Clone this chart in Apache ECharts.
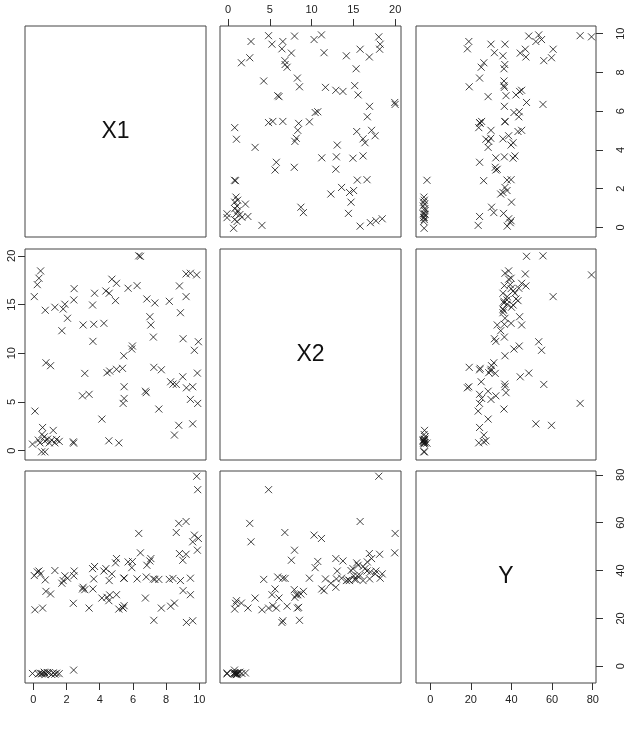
<!DOCTYPE html>
<html>
<head>
<meta charset="utf-8">
<script src="https://cdn.jsdelivr.net/npm/echarts@6/dist/echarts.min.js"></script>
<style>
  html, body { margin: 0; padding: 0; background: #fff; }
  #chart { width: 629px; height: 732px; }
</style>
</head>
<body>
<div id="chart"></div>
<script>
// variables (one entry per observation)
const x1 = [1.20, 0.52, 0.66, 0.30, 0.86, 1.10, 1.40, 1.56, 0.96, 1.30, 0.40, 0.70, -0.05, 2.43, 0.50, 0.70,
  0.44, 0.34, 0.24, 0.06, 0.72, 1.30, 1.80, 1.90, 2.46, 2.44, 2.06, 1.72, 3.69, 3.57, 4.73, 5.01, 4.37, 4.57, 4.95,
  3.00, 3.64, 4.25, 3.59, 0.76, 1.04, 3.10, 4.44, 4.60, 5.01, 2.96, 3.36, 0.10, 4.13, 0.56, 2.41, 4.55, 5.15,
  6.35, 6.45, 5.71, 6.25, 6.84, 7.32, 8.19, 8.80, 9.20, 9.46, 9.84, 9.20, 8.86, 7.02, 7.08, 7.23, 9.02, 9.94, 9.70,
  5.97, 5.93, 5.45, 5.37, 7.26, 7.71, 8.27, 8.41, 8.61, 9.00, 9.88, 9.22, 9.60, 5.47, 6.75, 6.80, 5.47, 5.41,
  9.46, 9.90, 7.56, 8.76, 9.60, 8.50]
const x2 = [2.08, 1.66, 1.42, 1.08, 1.18, 1.08, 1.15, 0.95, 0.80, 0.80, 0.80, 0.98, 0.67, 0.77, -0.12, -0.12,
  18.45, 17.70, 17.04, 15.81, 14.41, 14.72, 14.54, 15.03, 16.63, 15.47, 13.59, 12.31, 16.16, 14.95, 17.60, 17.18, 16.39, 16.16, 15.40,
  12.90, 12.97, 13.07, 11.22, 9.02, 8.72, 7.93, 8.00, 8.17, 8.35, 5.63, 5.78, 4.06, 3.24, 2.38, 0.90, 1.01, 0.80,
  20.00, 19.95, 16.67, 16.94, 15.57, 15.16, 15.33, 16.91, 18.14, 18.21, 18.04, 15.81, 14.16, 13.75, 12.90, 11.66, 11.49, 11.18, 10.30,
  10.74, 10.43, 9.74, 8.45, 8.55, 8.30, 7.07, 6.83, 6.80, 7.58, 7.96, 6.45, 6.56, 6.56, 6.10, 5.95, 5.36, 4.85,
  5.26, 4.85, 4.27, 2.60, 2.75, 1.60]
const yv = [-2.8, -3.0, -2.5, -3.2, -2.6, -3.4, -2.9, -3.1, -2.7, -3.3, -2.9, -3.5, -3.0, -1.6, -3.2, -2.8,
  38.6, 39.8, 39.4, 37.9, 36.1, 40.0, 35.8, 37.8, 39.8, 37.8, 36.8, 34.7, 41.7, 40.8, 38.6, 45.0, 40.8, 35.8, 43.2,
  33.0, 36.5, 39.8, 32.3, 31.3, 30.2, 32.0, 28.8, 29.8, 29.9, 32.3, 24.3, 23.6, 28.5, 24.3, 26.3, 27.4, 23.9,
  55.5, 47.4, 43.6, 36.5, 42.2, 36.3, 36.3, 47.1, 46.8, 36.8, 79.4, 60.5, 35.8, 44.0, 45.0, 36.5, 31.6, 53.4, 54.8,
  43.8, 41.2, 36.8, 24.6, 19.2, 24.3, 25.1, 36.7, 55.9, 44.3, 48.5, 18.3, 19.0, 36.8, 28.5, 37.3, 25.3, 24.3,
  29.9, 73.8, 36.3, 59.7, 52.0, 26.4]

const varNames = ['X1', 'X2', 'Y']
const varData = [x1, x2, yv]
// axis ranges (data range widened by 4% like R pairs)
const varRange = [[-0.5, 10.4], [-0.96, 20.7], [-7, 81.6]]
// tick labels
const x1Ticks = [0, 2, 4, 6, 8, 10]
const x2Ticks = [0, 5, 10, 15, 20]
const yTicks = [0, 20, 40, 60, 80]
const varTicks = [x1Ticks, x2Ticks, yTicks]

const chart = echarts.init(document.getElementById('chart'))

const colBox = [{ left: 25, width: 181 }, { left: 220, width: 181 }, { left: 416, width: 180 }]
const rowBox = [{ top: 26, height: 211 }, { top: 249, height: 211 }, { top: 471, height: 212 }]

const font = 'Liberation Sans, Arial, sans-serif'

// which panels carry an axis (R pairs alternates them)
const xAxisAt = { '0,1': 'top', '2,0': 'bottom', '2,2': 'bottom' }
const yAxisAt = { '1,0': 'left', '0,2': 'right', '2,2': 'right' }

const grids = []
const xAxes = []
const yAxes = []
const series = []
const texts = []

for (let r = 0; r < 3; r++) {
  for (let c = 0; c < 3; c++) {
    const idx = grids.length
    grids.push({
      left: colBox[c].left, width: colBox[c].width,
      top: rowBox[r].top, height: rowBox[r].height,
      show: true, borderColor: '#444', borderWidth: 1
    })
    const xp = xAxisAt[r + ',' + c]
    const yp = yAxisAt[r + ',' + c]
    xAxes.push({
      gridIndex: idx, type: 'value',
      min: varRange[c][0], max: varRange[c][1],
      position: xp || 'bottom',
      axisLine: { show: false, onZero: false },
      splitLine: { show: false },
      axisTick: {
        show: !!xp, length: 7, customValues: varTicks[c],
        lineStyle: { color: '#333' }
      },
      axisLabel: {
        show: !!xp, customValues: varTicks[c], margin: 11,
        fontSize: 11, fontFamily: font, color: '#222'
      }
    })
    yAxes.push({
      gridIndex: idx, type: 'value',
      min: varRange[r][0], max: varRange[r][1],
      position: yp || 'left',
      axisLine: { show: false, onZero: false },
      splitLine: { show: false },
      axisTick: {
        show: !!yp, length: 7, customValues: varTicks[r],
        lineStyle: { color: '#333' }
      },
      axisLabel: {
        show: !!yp, customValues: varTicks[r], rotate: 90,
        margin: yp === 'right' ? 19 : 8,
        fontSize: 11, fontFamily: font, color: '#222'
      }
    })
    if (r === c) {
      texts.push({
        type: 'text',
        x: colBox[c].left + colBox[c].width / 2,
        y: rowBox[r].top + rowBox[r].height / 2,
        style: {
          text: varNames[r], fontSize: 23, fontFamily: font, fill: '#111',
          align: 'center', verticalAlign: 'middle'
        }
      })
    } else {
      series.push({
        type: 'scatter',
        xAxisIndex: idx, yAxisIndex: idx,
        symbol: 'path://M0,0L10,10M10,0L0,10',
        symbolSize: 7,
        itemStyle: { color: 'rgba(0,0,0,0)', borderColor: '#111', borderWidth: 1 },
        emphasis: { disabled: true },
        data: varData[c].map((v, i) => [v, varData[r][i]])
      })
    }
  }
}

chart.setOption({
  animation: false,
  grid: grids,
  xAxis: xAxes,
  yAxis: yAxes,
  series: series,
  graphic: texts
})

window.addEventListener('resize', () => {
  chart.resize()
})
</script>
</body>
</html>
